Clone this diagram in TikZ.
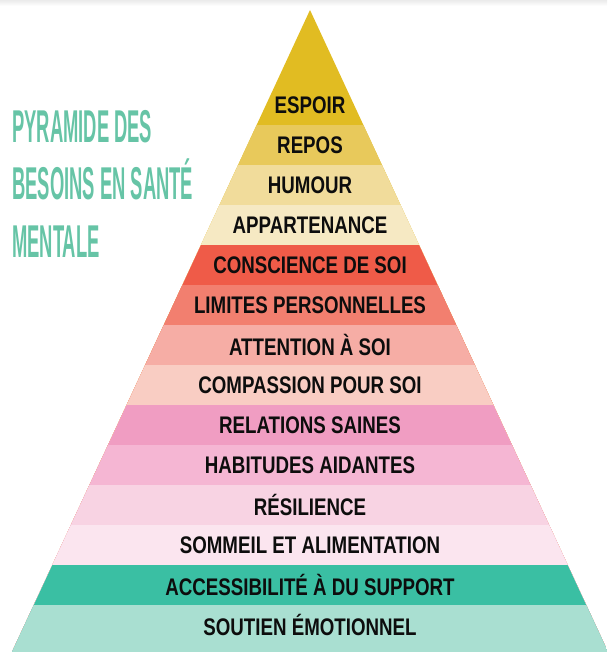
\documentclass[tikz,border=0pt]{standalone}
\usepackage{fontspec}
\setmainfont{Liberation Sans}
\usepackage{graphicx}
\usetikzlibrary{calc}

\definecolor{cEspoir}{HTML}{E1BC22}
\definecolor{cRepos}{HTML}{E8C95B}
\definecolor{cHumour}{HTML}{F1DC9B}
\definecolor{cAppart}{HTML}{F6E9C3}
\definecolor{cConsc}{HTML}{EF5B48}
\definecolor{cLimites}{HTML}{F27F6F}
\definecolor{cAttention}{HTML}{F6ADA5}
\definecolor{cCompass}{HTML}{F9CDC3}
\definecolor{cRelat}{HTML}{F09DC2}
\definecolor{cHabit}{HTML}{F5B6D3}
\definecolor{cResil}{HTML}{F8D3E3}
\definecolor{cSommeil}{HTML}{FBE5EF}
\definecolor{cAccess}{HTML}{3ABFA3}
\definecolor{cSoutien}{HTML}{A9DFD1}
\definecolor{cTitre}{HTML}{66C4A6}

\newcommand{\narrowlbl}[1]{\scalebox{0.78}[1]{#1}}
\newcommand{\narrowttl}[1]{\scalebox{0.40}[1]{#1}}

\tikzset{
  lvl/.style={inner sep=0pt, text=black!95, font=\bfseries\fontsize{24}{24}\selectfont},
  ttl/.style={inner sep=0pt, anchor=base west, text=cTitre, font=\bfseries\fontsize{46}{46}\selectfont}
}

\begin{document}
\begin{tikzpicture}[x=1pt, y=-1pt]
    \useasboundingbox (0,0) rectangle (607,652);
    \shade[top color=black!8, bottom color=white] (0,0) rectangle (607,6);

    \begin{scope}
      \clip (310,10) -- (12,652) -- (608,652) -- cycle;
      \fill[cEspoir] (0,0) rectangle (607,652);
      \foreach \i/\c in {1/cRepos,2/cHumour,3/cAppart,4/cConsc,5/cLimites,6/cAttention,
                         7/cCompass,8/cRelat,9/cHabit,10/cResil,11/cSommeil,12/cAccess,13/cSoutien} {
        \fill[\c] (0,{85+40*\i}) rectangle (607,652);
      }
    \end{scope}

    \foreach \i/\nm/\t in {0/espoir/ESPOIR, 1/repos/REPOS, 2/humour/HUMOUR, 3/appart/APPARTENANCE,
                           4/consc/CONSCIENCE DE SOI, 5/limites/LIMITES PERSONNELLES,
                           6/attention/ATTENTION À SOI, 7/compass/COMPASSION POUR SOI,
                           8/relat/RELATIONS SAINES, 9/habit/HABITUDES AIDANTES,
                           10/resil/RÉSILIENCE, 11/sommeil/SOMMEIL ET ALIMENTATION,
                           12/access/ACCESSIBILITÉ À DU SUPPORT, 13/soutien/SOUTIEN ÉMOTIONNEL} {
      \node[lvl] (\nm) at (310,{105+40*\i}) {\narrowlbl{\t}};
    }

    \node[ttl] (ttl1) at (12,143) {\narrowttl{PYRAMIDE DES}};
    \node[ttl] (ttl2) at (12,200) {\narrowttl{BESOINS EN SANTÉ}};
    \node[ttl] (ttl3) at (12,257) {\narrowttl{MENTALE}};
\end{tikzpicture}
\end{document}
